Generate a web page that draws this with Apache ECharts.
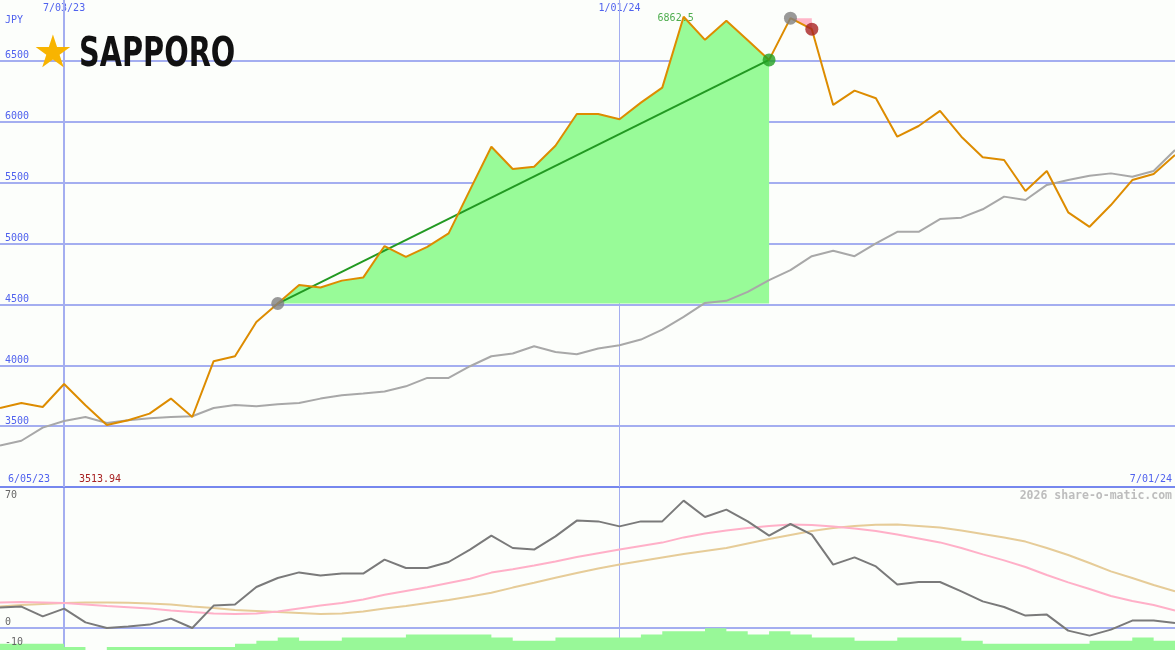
<!DOCTYPE html>
<html><head><meta charset="utf-8">
<script src="https://cdn.jsdelivr.net/npm/echarts@6/dist/echarts.min.js"></script>
<style>html,body{margin:0;padding:0;background:#fcfefb}#c{width:1175px;height:650px}</style>
</head><body><div id="c"></div><script>
// ---- data ----
const firstWeek = [2023, 6, 12]; // y, m, d of first weekly point
const price = [3649,3690,3657,3846,3671,3509,3548,3603,3726,3575,
  4033,4074,4356,4507,4660,4639,4695,4720,4979,4890,
  4973,5083,5440,5795,5612,5631,5803,6064,6064,6021,
  6157,6280,6862.5,6673,6829,6670,6508,6851,6760,6138,
  6256,6193,5877,5965,6089,5877,5708,5686,5431,5595,
  5256,5137,5316,5521,5571,5727];
const avg = [3340,3380,3488,3542,3575,3526,3548,3564,3575,3581,
  3649,3674,3663,3679,3690,3726,3753,3767,3785,3827,
  3896,3896,3992,4074,4096,4156,4109,4090,4137,4164,
  4211,4293,4397,4512,4529,4603,4699,4781,4896,4940,
  4896,5001,5096,5096,5201,5212,5281,5385,5357,5481,
  5521,5557,5576,5549,5595,5768];
const osc = [10.3,10.7,5.8,9.7,2.8,0,0.8,1.7,4.7,0,
  11.2,11.7,20.5,25,27.8,26.2,27.2,27.2,34.2,30,
  30,33,39.2,46.2,40,39.2,45.8,53.7,53.3,50.8,
  53.3,53.3,63.7,55.5,59.2,53.3,46.2,52,46.7,31.7,
  35.3,30.8,21.7,23,23,18.3,13.3,10.5,6.2,6.7,
  -1.3,-3.8,-0.8,3.7,3.7,2.5];
const oscPink = [12.8,13.0,12.8,12.5,11.8,11.0,10.4,9.7,8.8,8.0,
  7.3,7.0,7.2,8.3,9.8,11.2,12.5,14.3,16.6,18.5,
  20.4,22.5,24.6,27.7,29.4,31.2,33.3,35.5,37.4,39.2,
  41.0,42.7,45.3,47.2,48.8,50.0,51.0,51.7,51.5,50.8,
  49.8,48.5,46.8,44.8,42.8,40.0,36.8,33.8,30.5,26.5,
  22.8,19.5,16.0,13.5,11.5,8.7];
const oscTan = [10.8,11.5,12.0,12.5,12.7,12.8,12.6,12.2,11.7,10.8,
  10.0,9.0,8.5,8.0,7.5,7.0,7.3,8.3,9.8,11.0,
  12.5,14.0,15.8,17.6,20.2,22.6,25.1,27.5,29.8,31.7,
  33.5,35.3,37.0,38.5,40.0,42.3,44.5,46.5,48.5,50.0,
  51.0,51.6,51.7,51.0,50.2,48.7,47.0,45.3,43.2,40.0,
  36.5,32.5,28.3,25.0,21.5,18.3];
const volume = [2,2,2,1,0,1,1,1,1,1,
  1,2,3,4,3,3,4,4,4,5,
  5,5,5,4,3,3,4,4,4,4,
  5,6,6,7,6,5,6,5,4,4,
  3,3,4,4,4,3,2,2,2,2,
  2,3,3,4,3,3];
const priceTicks = [3500,4000,4500,5000,5500,6000,6500];
const dateTicks = ['7/03/23','1/01/24'];
const oscTicks = [70,0,-10];
const gainStart = 13, gainEnd = 36, dropStart = 37, dropEnd = 38, peakIndex = 32;
const currency = 'JPY';
const brand = 'SAPPORO';
const footLeft = '6/05/23', footValue = '3513.94', footRight = '7/01/24';
const watermark = '2026 share-o-matic.com';

// ---- build ----
const weeks = price.map((_, i) => {
  const d = new Date(firstWeek[0], firstWeek[1] - 1, firstWeek[2] + 7 * i);
  return (d.getMonth() + 1) + '/' + String(d.getDate()).padStart(2, '0') + '/' + String(d.getFullYear()).slice(2);
});
const seg = (a, b) => price.map((v, i) => (i >= a && i <= b ? v : null));
const ends = (a, b) => price.map((v, i) => (i === a || i === b ? v : null));
const nulls = price.map(() => null);

const mono = "'DejaVu Sans Mono', monospace";
const gridBlue = '#a4aef0';
const labelBlue = '#5062ee';
const yMin = 3000, yMax = 7000, yStep = 500;
// split lines from min to max; the one on the top border is not drawn
const splitColors = [];
for (let v = yMin; v <= yMax; v += yStep) splitColors.push(v === yMax ? 'rgba(0,0,0,0)' : gridBlue);

const chart = echarts.init(document.getElementById('c'), null, { renderer: 'canvas' });

const staticGraphics = [
  { type: 'text', x: 5, y: 20, style: { text: currency, fill: labelBlue, font: '10px ' + mono, textVerticalAlign: 'middle' }, z: 10 },
  { type: 'text', x: 53, y: 55, style: { text: '★', fill: '#f8b400', font: '45px "DejaVu Sans"', textAlign: 'center', textVerticalAlign: 'middle' }, z: 10 },
  { type: 'text', x: 79, y: 56, scaleX: 0.8, style: { text: brand, fill: '#111', font: 'bold 40px "Liberation Sans Narrow", "DejaVu Sans Condensed", sans-serif', textVerticalAlign: 'middle' }, z: 10 },
  { type: 'text', x: 8, y: 479, style: { text: footLeft, fill: labelBlue, font: '10px ' + mono, textVerticalAlign: 'middle' }, z: 10 },
  { type: 'text', x: 79, y: 479, style: { text: footValue, fill: '#a82222', font: '10px ' + mono, textVerticalAlign: 'middle' }, z: 10 },
  { type: 'text', x: 1172, y: 479, style: { text: footRight, fill: labelBlue, font: '10px ' + mono, textAlign: 'right', textVerticalAlign: 'middle' }, z: 10 },
  { type: 'text', x: 1172, y: 496, style: { text: watermark, fill: '#bdbdbd', font: 'bold 11.5px ' + mono, textAlign: 'right', textVerticalAlign: 'middle' }, z: 10 }
];

const vLines = () => ({
  silent: true, z: 1, symbol: ['none', 'none'], label: { show: false },
  lineStyle: { color: gridBlue, type: 'solid' },
  emphasis: { disabled: true },
  data: [
    { xAxis: dateTicks[0], lineStyle: { color: gridBlue, width: 2, type: 'solid' } },
    { xAxis: dateTicks[1], lineStyle: { color: gridBlue, width: 1, type: 'solid' } }
  ]
});

const option = {
  backgroundColor: '#fcfefb',
  animation: false,
  grid: [
    { left: 0, right: 0, top: 0, height: 487 },
    { left: 0, right: 0, top: 488, height: 160 },
    { left: 0, right: 0, top: 488, height: 162 }
  ],
  xAxis: [
    { gridIndex: 0, type: 'category', data: weeks, boundaryGap: false, position: 'top',
      axisLine: { show: false }, axisTick: { show: false }, splitLine: { show: false },
      axisLabel: { inside: true, margin: 3, interval: (i, v) => dateTicks.includes(v), color: labelBlue, fontFamily: mono, fontSize: 10 } },
    { gridIndex: 0, type: 'category', data: weeks, boundaryGap: false, position: 'bottom',
      axisLine: { show: true, onZero: false, lineStyle: { color: '#7687ee', width: 2 } },
      axisTick: { show: false }, axisLabel: { show: false }, splitLine: { show: false } },
    { gridIndex: 1, type: 'category', data: weeks, boundaryGap: false,
      axisLine: { show: true, onZero: true, lineStyle: { color: gridBlue, width: 2 } },
      axisTick: { show: false }, axisLabel: { show: false }, splitLine: { show: false } },
    { gridIndex: 2, type: 'category', data: weeks, boundaryGap: false, show: false }
  ],
  yAxis: [
    { gridIndex: 0, type: 'value', min: yMin, max: yMax, interval: yStep,
      axisLine: { show: false }, axisTick: { show: false },
      splitLine: { show: true, lineStyle: { color: splitColors, width: 2 } },
      axisLabel: { inside: true, margin: 5, verticalAlign: 'bottom', color: labelBlue, fontFamily: mono, fontSize: 10,
        formatter: v => (priceTicks.includes(v) ? String(v) : '') } },
    { gridIndex: 1, type: 'value', min: -10, max: 70, interval: 10,
      axisLine: { show: false }, axisTick: { show: false }, splitLine: { show: false }, axisLabel: { show: false } },
    { gridIndex: 2, type: 'value', min: 0, max: 52,
      axisLine: { show: false }, axisTick: { show: false }, splitLine: { show: false }, axisLabel: { show: false } }
  ],
  graphic: { elements: staticGraphics },
  series: [
    { name: 'gridMain', type: 'line', xAxisIndex: 0, yAxisIndex: 0, data: nulls, z: 1, silent: true, symbol: 'none', markLine: vLines() },
    { name: 'gridOsc', type: 'line', xAxisIndex: 2, yAxisIndex: 1, data: nulls, z: 1, silent: true, symbol: 'none', markLine: vLines() },
    { name: 'volume', type: 'line', xAxisIndex: 3, yAxisIndex: 2, data: volume, step: 'end', symbol: 'none', z: 2,
      lineStyle: { width: 0 }, areaStyle: { color: '#98f898', opacity: 1 } },
    { name: 'gain', type: 'line', xAxisIndex: 0, yAxisIndex: 0, data: seg(gainStart, gainEnd), symbol: 'none', z: 2,
      lineStyle: { width: 0 }, areaStyle: { color: '#98fb98', opacity: 1, origin: price[gainStart] } },
    { name: 'drop', type: 'line', xAxisIndex: 0, yAxisIndex: 0, data: seg(dropStart, dropEnd), symbol: 'none', z: 2,
      lineStyle: { width: 0 }, areaStyle: { color: '#ffb6c8', opacity: 1, origin: price[dropStart] } },
    { name: 'average', type: 'line', xAxisIndex: 0, yAxisIndex: 0, data: avg, symbol: 'none', z: 3,
      lineStyle: { color: '#a8a8a8', width: 2 } },
    { name: 'trend', type: 'line', xAxisIndex: 0, yAxisIndex: 0, data: ends(gainStart, gainEnd), connectNulls: true, symbol: 'none', z: 4,
      lineStyle: { color: '#229922', width: 2 } },
    { name: 'price', type: 'line', xAxisIndex: 0, yAxisIndex: 0, data: price, symbol: 'none', z: 5,
      lineStyle: { color: '#dd8c00', width: 2 } },
    { name: 'marks', type: 'scatter', xAxisIndex: 0, yAxisIndex: 0, symbolSize: 13, z: 6,
      data: [
        { value: [gainStart, price[gainStart]], itemStyle: { color: '#7f7f7f' } },
        { value: [gainEnd, price[gainEnd]], itemStyle: { color: '#22a022' } },
        { value: [dropStart, price[dropStart]], itemStyle: { color: '#7f7f7f' } },
        { value: [dropEnd, price[dropEnd]], itemStyle: { color: '#a82222' } }
      ] },
    { name: 'peak', type: 'scatter', xAxisIndex: 0, yAxisIndex: 0, symbolSize: 1, z: 4,
      itemStyle: { color: 'rgba(0,0,0,0)' },
      data: [[peakIndex, price[peakIndex]]],
      label: { show: true, position: 'inside', offset: [-8, 2], color: '#229922', fontFamily: mono, fontSize: 10,
        formatter: p => String(p.value[1]) } },
    { name: 'oscTan', type: 'line', xAxisIndex: 2, yAxisIndex: 1, data: oscTan, symbol: 'none', z: 3,
      lineStyle: { color: '#e6cc98', width: 2 } },
    { name: 'oscPink', type: 'line', xAxisIndex: 2, yAxisIndex: 1, data: oscPink, symbol: 'none', z: 3,
      lineStyle: { color: '#ffb0c8', width: 2 } },
    { name: 'osc', type: 'line', xAxisIndex: 2, yAxisIndex: 1, data: osc, symbol: 'none', z: 4,
      lineStyle: { color: '#7a7a7a', width: 2 } }
  ]
};
chart.setOption(option);

// oscillator tick labels placed through the axis scale
const oscLabels = oscTicks.map(v => {
  const y = chart.convertToPixel({ yAxisIndex: 1 }, v);
  const top = v === Math.max(...oscTicks);
  return { type: 'text', x: 5, y: top ? y + 2 : y - 1,
    style: { text: String(v), fill: '#666', font: '10px ' + mono, textVerticalAlign: top ? 'top' : 'bottom' }, z: 10 };
});
chart.setOption({ graphic: { elements: staticGraphics.concat(oscLabels) } });
</script></body></html>
